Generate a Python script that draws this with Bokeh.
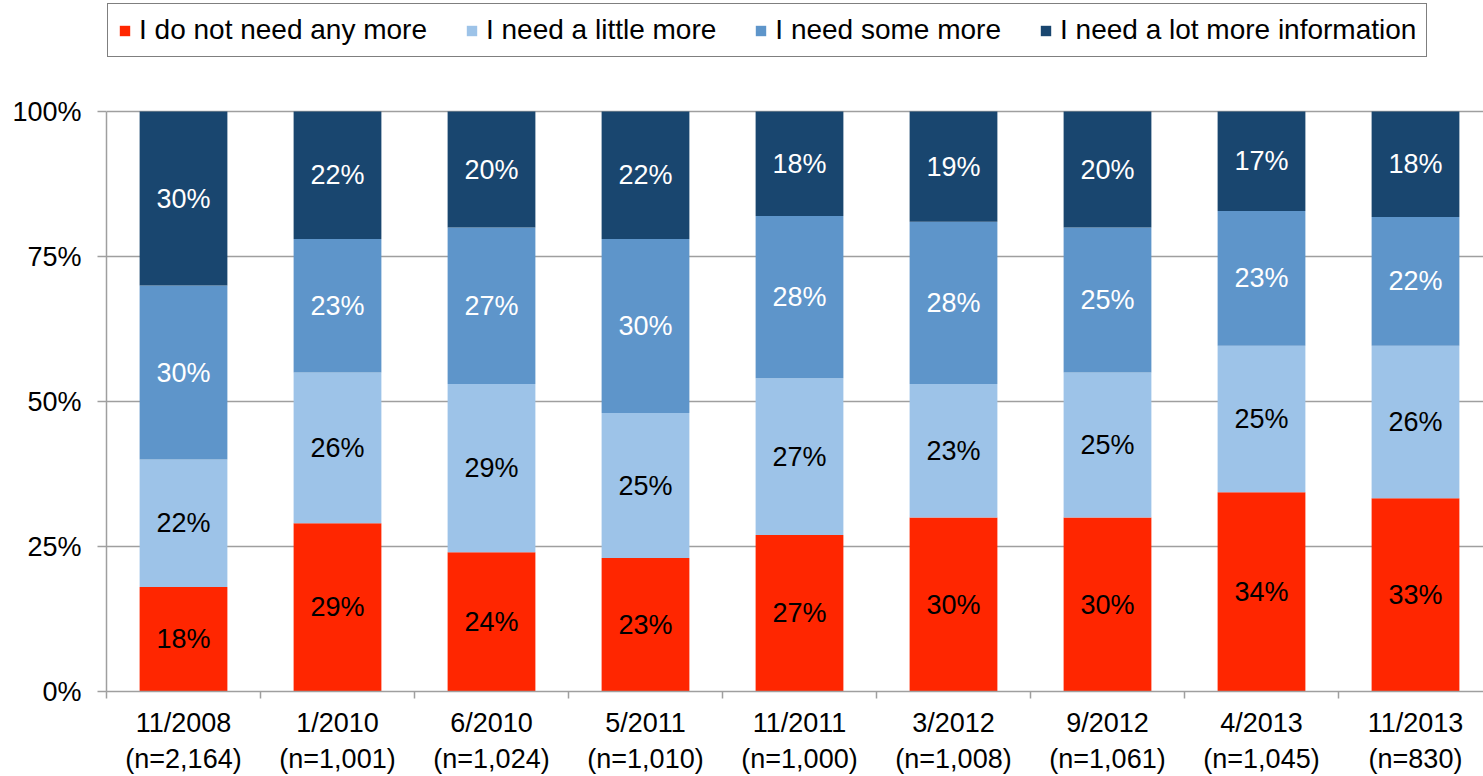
from bokeh.plotting import figure
from bokeh.models import ColumnDataSource, Range1d, FixedTicker, Legend, LegendItem
from bokeh.core.properties import value
from bokeh.embed import file_html
from bokeh.resources import INLINE

# ---- data ----
dates = ["11/2008", "1/2010", "6/2010", "5/2011", "11/2011", "3/2012", "9/2012", "4/2013", "11/2013"]
sample_sizes = ["(n=2,164)", "(n=1,001)", "(n=1,024)", "(n=1,010)", "(n=1,000)", "(n=1,008)",
                "(n=1,061)", "(n=1,045)", "(n=830)"]
series_names = ["I do not need any more", "I need a little more", "I need some more",
                "I need a lot more information"]
no_more = [18, 29, 24, 23, 27, 30, 30, 34, 33]
little_more = [22, 26, 29, 25, 27, 23, 25, 25, 26]
some_more = [30, 23, 27, 30, 28, 28, 25, 23, 22]
lot_more = [30, 22, 20, 22, 18, 19, 20, 17, 18]
y_ticks = [0, 25, 50, 75, 100]

colors = ["#FF2600", "#9DC3E8", "#5E95CA", "#19466F"]
label_colors = ["black", "black", "white", "white"]
FONT = "Liberation Sans"

series = [no_more, little_more, some_more, lot_more]
keys = ["s0", "s1", "s2", "s3"]
xs = list(range(len(dates)))
totals = [sum(s[i] for s in series) for i in xs]

data = {"x": xs}
for k, s in zip(keys, series):
    data[k] = [v / t * 100 for v, t in zip(s, totals)]
src = ColumnDataSource(data)

# label positions (segment middles)
lx, ly, lt, lc = [], [], [], []
for i in xs:
    base = 0.0
    for j, s in enumerate(series):
        h = s[i] / totals[i] * 100
        lx.append(i)
        ly.append(base + h / 2)
        lt.append(f"{s[i]}%")
        lc.append(label_colors[j])
        base += h
lab_src = ColumnDataSource(dict(x=lx, y=ly, text=lt, color=lc))

W, H = 1483, 776
BOTTOM, LEFT = 85, 106
frame_w = W - LEFT
frame_h = H - BOTTOM          # frame reaches the top edge; the 100% line sits 580px above 0%
px_per_cat = 154.0
px_per_100 = 580.0

p = figure(width=W, height=H, output_backend="svg", toolbar_location=None,
           x_range=Range1d(-0.5, -0.5 + frame_w / px_per_cat),
           y_range=Range1d(0, 100 * frame_h / px_per_100),
           min_border_left=LEFT, min_border_right=0, min_border_top=0,
           min_border_bottom=BOTTOM)
p.outline_line_color = None
p.background_fill_color = "white"
p.border_fill_color = "white"

renderers = p.vbar_stack(keys, x="x", width=0.57, color=colors, line_color=None, source=src)

p.text(x="x", y="y", text="text", text_color="color", source=lab_src,
       text_align="center", text_baseline="middle",
       text_font=value(FONT), text_font_size=value("27px"))

# axes
grey = "#9F9F9F"
p.yaxis.ticker = FixedTicker(ticks=y_ticks)
p.yaxis.bounds = (0, 100)
p.yaxis.major_label_overrides = {t: f"{t}%" for t in y_ticks}
p.yaxis.major_label_text_font = FONT
p.yaxis.major_label_text_font_size = "27px"
p.yaxis.major_label_text_color = "black"
p.yaxis.axis_line_color = grey
p.yaxis.axis_line_width = 1.5
p.yaxis.major_tick_line_color = grey
p.yaxis.major_tick_line_width = 1.5
p.yaxis.major_tick_out = 9
p.yaxis.major_tick_in = 0
p.yaxis.minor_tick_line_color = None
p.yaxis.major_label_standoff = 16

p.xaxis.ticker = FixedTicker(ticks=xs, minor_ticks=[i - 0.5 for i in xs])
p.xaxis.major_label_overrides = {i: f"{d}\n{n}" for i, d, n in zip(xs, dates, sample_sizes)}
p.xaxis.major_label_text_font = FONT
p.xaxis.major_label_text_font_size = "27px"
p.xaxis.major_label_text_color = "black"
p.xaxis.major_label_text_line_height = 1.2
p.xaxis.axis_line_color = grey
p.xaxis.axis_line_width = 1.5
p.xaxis.major_tick_line_color = None
p.xaxis.major_tick_out = 0
p.xaxis.major_tick_in = 0
p.xaxis.minor_tick_line_color = grey
p.xaxis.minor_tick_line_width = 1.5
p.xaxis.minor_tick_out = 7
p.xaxis.minor_tick_in = 0
p.xaxis.major_label_standoff = 9

p.xgrid.grid_line_color = None
p.ygrid.ticker = FixedTicker(ticks=y_ticks)
p.ygrid.grid_line_color = grey
p.ygrid.grid_line_width = 1.5

# legend inside the (tall) frame; location = bottom-left corner from frame bottom-left
items = [LegendItem(label=n, renderers=[r]) for n, r in zip(series_names, renderers)]
legend = Legend(items=items, orientation="horizontal", location=(1, frame_h - 57),
                glyph_width=13, glyph_height=13, label_standoff=8, spacing=38,
                padding=10, margin=0, border_line_color="black", border_line_width=1.5,
                background_fill_color="white", background_fill_alpha=1,
                label_text_font=FONT, label_text_font_size="28px",
                label_text_color="black")
p.add_layout(legend)

open("out.html", "w").write(file_html(p, INLINE))
